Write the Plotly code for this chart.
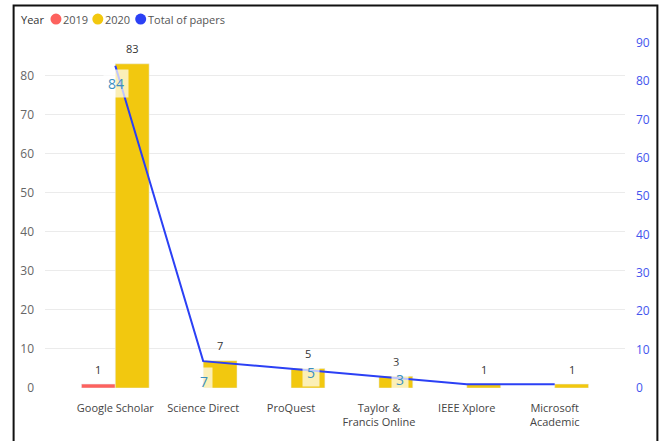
import plotly.graph_objects as go

# ---- data ----
categories = ["Google Scholar", "Science Direct", "ProQuest",
              "Taylor &<br>Francis Online", "IEEE Xplore", "Microsoft<br>Academic"]
papers_2019 = [1, None, None, None, None, None]
papers_2020 = [83, 7, 5, 3, 1, 1]
total_papers = [84, 7, 5, 3, 1, 1]
series_names = ["2019", "2020", "Total of papers"]
legend_title = "Year"
left_ticks = [0, 10, 20, 30, 40, 50, 60, 70, 80]
right_ticks = [0, 10, 20, 30, 40, 50, 60, 70, 80, 90]

# ---- style ----
RED = "#FD625E"
YELLOW = "#F2C80F"
BLUE = "#2B40F5"
LABEL_BLUE = "#3A8FC0"
W, H = 662, 441
ML, MR, MT, MB = 45, 35, 40, 52
PW, PH = W - ML - MR, H - MT - MB
# offsets of the total-line data labels (hidden where None)
line_label_shift = [(1, -18), (1, -20), (20, -4), (21, -3), None, None]
BAR_HALF = 17


def px_x(px):
    return (px - ML) / PW


def px_y(py):
    return (H - MB - py) / PH


fig = go.Figure()
fig.add_trace(go.Bar(x=categories, y=papers_2019, name=series_names[0],
                     marker_color=RED, showlegend=False))
fig.add_trace(go.Bar(x=categories, y=papers_2020, name=series_names[1],
                     marker_color=YELLOW, showlegend=False))
fig.add_trace(go.Scatter(x=categories, y=total_papers, name=series_names[2],
                         mode="lines", line=dict(color=BLUE, width=2),
                         yaxis="y2", showlegend=False))

annotations = []
shapes = []
lab_font = dict(family="Open Sans", size=11, color="#333333")
for c, v in zip(categories, papers_2019):
    if v is not None:
        annotations.append(dict(x=c, y=v, xref="x", yref="y", text=str(v),
                                showarrow=False, xshift=-BAR_HALF, yshift=15,
                                yanchor="middle", font=lab_font))
for c, v in zip(categories, papers_2020):
    if v is not None:
        annotations.append(dict(x=c, y=v, xref="x", yref="y", text=str(v),
                                showarrow=False, xshift=BAR_HALF, yshift=15,
                                yanchor="middle", font=lab_font))
for c, v, s in zip(categories, total_papers, line_label_shift):
    if s is None:
        continue
    annotations.append(dict(x=c, y=v, xref="x", yref="y2", text=str(v),
                            showarrow=False, xshift=s[0], yshift=s[1],
                            yanchor="middle",
                            bgcolor="rgba(255,255,255,0.7)", borderpad=4,
                            font=dict(family="Open Sans", size=14, color=LABEL_BLUE)))

# legend (manual, Power BI style)
leg_y = px_y(19)
annotations.append(dict(x=px_x(19), y=leg_y, xref="paper", yref="paper",
                        text=legend_title, showarrow=False, xanchor="left",
                        yanchor="middle",
                        font=dict(family="Open Sans", size=11, color="#333333")))
leg_circles = [56, 98, 141]
leg_colors = [RED, YELLOW, BLUE]
for cx, col, name in zip(leg_circles, leg_colors, series_names):
    shapes.append(dict(type="circle", xref="paper", yref="paper",
                       xsizemode="pixel", ysizemode="pixel",
                       xanchor=px_x(cx), yanchor=leg_y,
                       x0=-5.5, x1=5.5, y0=-5.5, y1=5.5,
                       fillcolor=col, line=dict(width=0)))
    annotations.append(dict(x=px_x(cx + 5), y=leg_y, xref="paper", yref="paper",
                            text=name, showarrow=False, xanchor="left",
                            yanchor="middle",
                            font=dict(family="Open Sans", size=11, color="#555555")))

# frame
shapes.append(dict(type="rect", xref="paper", yref="paper",
                   x0=px_x(13.5), x1=px_x(659.5), y0=px_y(460), y1=px_y(5.5),
                   line=dict(color="#111111", width=2), fillcolor="rgba(0,0,0,0)",
                   layer="above"))

fig.update_layout(
    width=W, height=H,
    margin=dict(l=ML, r=MR, t=MT, b=MB, pad=0),
    paper_bgcolor="white", plot_bgcolor="white",
    barmode="group", bargap=0.23, bargroupgap=0,
    showlegend=False,
    annotations=annotations, shapes=shapes,
    xaxis=dict(type="category", range=[-0.8, 5.8], showgrid=False,
               zeroline=False, showline=False, ticks="",
               ticklabelstandoff=12,
               tickfont=dict(family="Open Sans", size=11, color="#444444")),
    yaxis=dict(range=[0, 89.1], tickvals=left_ticks, showgrid=True,
               gridcolor="#EBEBEB", gridwidth=1, zeroline=False,
               showline=False, ticks="", ticklabelstandoff=10,
               tickfont=dict(family="Open Sans", size=12, color="#666666")),
    yaxis2=dict(range=[0, 90.7], tickvals=right_ticks, overlaying="y",
                side="right", showgrid=False, zeroline=False, showline=False,
                ticks="", ticklabelstandoff=10,
                tickfont=dict(family="Open Sans", size=12, color="#4455EE")),
)

fig.write_html("out.html")
